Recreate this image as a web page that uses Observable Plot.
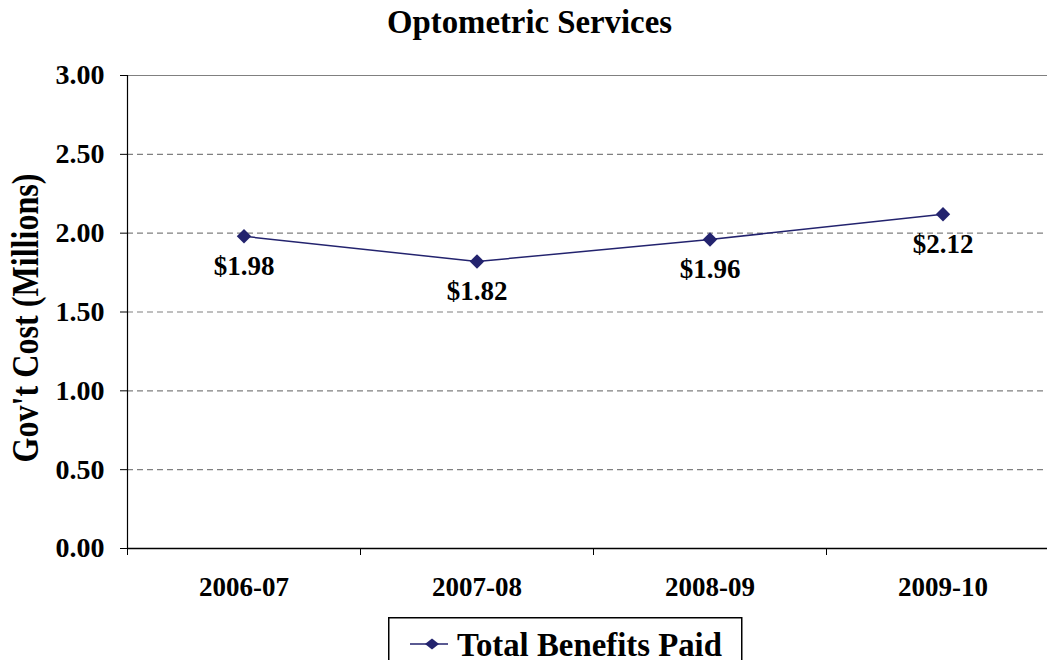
<!DOCTYPE html>
<html>
<head>
<meta charset="utf-8">
<script src="https://cdn.jsdelivr.net/npm/d3@7"></script>
<script src="https://cdn.jsdelivr.net/npm/@observablehq/plot@0.6"></script>
<style>
  html, body { margin: 0; padding: 0; background: #fff; width: 1049px; height: 660px; overflow: hidden; position: relative; }
  body { font-family: "Liberation Serif", "Times New Roman", serif; font-weight: bold; }
  svg text { font-family: "Liberation Serif", "Times New Roman", serif; font-weight: bold; }
  #title { display: block; }
  #chart svg { display: block; }
  #legend { position: absolute; left: 388px; top: 617px; }
</style>
</head>
<body>
<svg id="title" width="1049" height="60"></svg>
<div id="chart"></div>
<svg id="legend" width="360" height="50"></svg>
<script>
const chartTitle = "Optometric Services";
const yLabel = "Gov't Cost (Millions)";
const categories = ["2006-07", "2007-08", "2008-09", "2009-10"];
const values = [1.98, 1.82, 1.96, 2.12];
const labels = ["$1.98", "$1.82", "$1.96", "$2.12"];
const yTicks = [0, 0.5, 1, 1.5, 2, 2.5, 3];
const seriesName = "Total Benefits Paid";

const data = categories.map((c, i) => ({cat: c, idx: i + 0.5, value: values[i], label: labels[i]}));
const color = "#23236e";
const font = "Liberation Serif, Times New Roman, serif";

// Title
d3.select("#title").append("text")
  .attr("x", 529.5).attr("y", 33).attr("text-anchor", "middle")
  .attr("font-size", 34).attr("textLength", 285).attr("lengthAdjust", "spacingAndGlyphs")
  .text(chartTitle);

const chart = Plot.plot({
  width: 1049,
  height: 560,
  marginLeft: 127,
  marginRight: 2,
  marginTop: 15,
  marginBottom: 72,
  style: {fontFamily: font, fontWeight: "bold", background: "#fff", overflow: "visible"},
  x: {type: "linear", domain: [0, categories.length], range: [127, 1059], axis: null},
  y: {domain: [0, 3], axis: null},
  marks: [
    Plot.ruleY(yTicks.filter(d => d > 0 && d < 3), {stroke: "#808080", strokeDasharray: "6,4", strokeWidth: 1.2}),
    Plot.ruleY([3], {stroke: "#808080", strokeWidth: 1.2}),
    Plot.axisY({ticks: yTicks, tickFormat: d3.format(".2f"), tickSize: 7, tickPadding: 16, fontSize: 28, stroke: "#000", label: null}),
    Plot.ruleX([0], {stroke: "#000", strokeWidth: 1.2}),
    Plot.ruleY([0], {stroke: "#000", strokeWidth: 1.5}),
    Plot.axisX({ticks: d3.range(0, categories.length), tickFormat: () => "", tickSize: 7, stroke: "#000", label: null}),
    Plot.axisX({ticks: data.map(d => d.idx), tickFormat: (d) => categories[Math.floor(d)], tickSize: 0, tickPadding: 28, fontSize: 27, label: null}),
    Plot.text([yLabel], {frameAnchor: "left", textAnchor: "start", dx: -102, dy: 150.5, rotate: -90, fontSize: 38, fill: "#000", className: "ylab"}),
    Plot.line(data, {x: "idx", y: "value", stroke: color, strokeWidth: 1.5}),
    Plot.dot(data, {x: "idx", y: "value", symbol: "diamond2", r: 6.5, fill: color, stroke: "none"}),
    Plot.text(data, {x: "idx", y: "value", text: "label", dy: 30, fontSize: 27, fill: "#000"})
  ]
});
document.getElementById("chart").appendChild(chart);
d3.select(chart).selectAll(".ylab text").attr("textLength", 289).attr("lengthAdjust", "spacingAndGlyphs");

// Legend
const lg = d3.select("#legend");
lg.append("rect").attr("x", 0.75).attr("y", 0.75).attr("width", 353).attr("height", 60)
  .attr("fill", "none").attr("stroke", "#000").attr("stroke-width", 1.5);
lg.append("line").attr("x1", 22).attr("x2", 60).attr("y1", 27).attr("y2", 27)
  .attr("stroke", color).attr("stroke-width", 1.5);
lg.append("path").attr("d", "M44 21.5 L51 27 L44 32.5 L37 27 Z").attr("fill", color);
lg.append("text").attr("x", 69).attr("y", 39).attr("font-size", 34)
  .attr("textLength", 265).attr("lengthAdjust", "spacingAndGlyphs").text(seriesName);
</script>
</body>
</html>
